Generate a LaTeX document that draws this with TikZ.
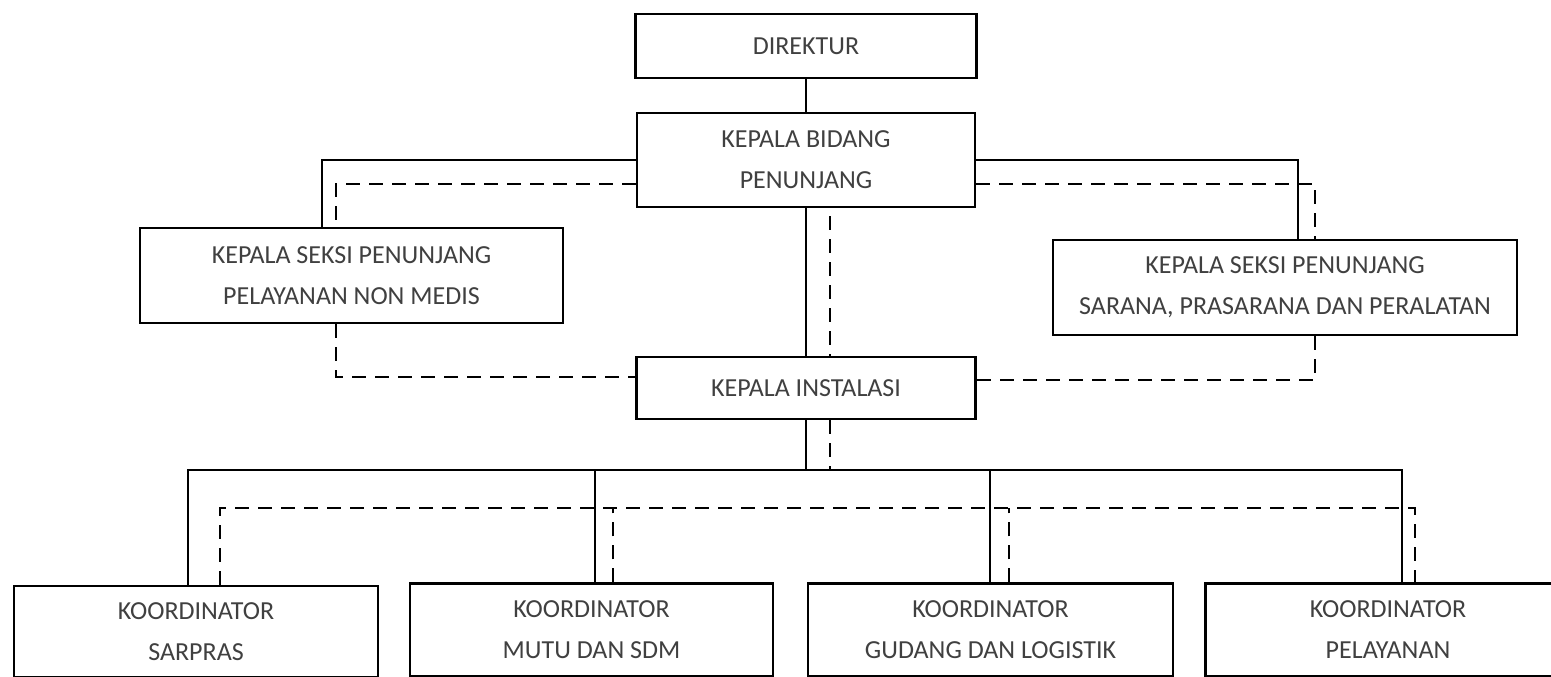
\documentclass[tikz,border=0pt]{standalone}
\usepackage{fontspec}
\setmainfont{Carlito}
\usetikzlibrary{positioning}

\begin{document}
\begin{tikzpicture}[x=1pt,y=-1pt]
  \tikzstyle{box}=[draw=black,line width=2.2pt,align=center,inner sep=0pt,
    font=\fontsize{26}{41}\selectfont,text=black!75]
  \tikzstyle{link}=[line width=1.8pt]
  \tikzstyle{dashlink}=[line width=1.8pt,dash pattern=on 14pt off 9pt]

  \clip (0,0) rectangle (1551,677);
  \fill[white] (0,0) rectangle (1551,677);

  \node[box,minimum width=341,minimum height=64] (dir) at (806,46) {DIREKTUR};
  \node[box,minimum width=338,minimum height=94] (kb) at (806,160) {KEPALA BIDANG\\PENUNJANG};
  \node[box,minimum width=423,minimum height=95] (kspn) at (351.5,275.5) {KEPALA SEKSI PENUNJANG\\PELAYANAN NON MEDIS};
  \node[box,minimum width=464,minimum height=95] (kspp) at (1285,287.5) {KEPALA SEKSI PENUNJANG\\SARANA, PRASARANA DAN PERALATAN};
  \node[box,minimum width=339,minimum height=62] (ki) at (806,388) {KEPALA INSTALASI};

  \node[box,minimum width=364,minimum height=91] (sarpras) at (196,631.5) {KOORDINATOR\\SARPRAS};
  \node[box,minimum width=363,minimum height=93] (mutu) at (591.5,630) {KOORDINATOR\\MUTU DAN SDM};
  \node[box,minimum width=365,minimum height=93] (gudang) at (990.5,630) {KOORDINATOR\\GUDANG DAN LOGISTIK};
  \node[box,minimum width=365,minimum height=93] (pelayanan) at (1388,630) {KOORDINATOR\\PELAYANAN};

  \coordinate (bus) at (806,470);
  \coordinate (dbus) at (806,508);

  % garis komando
  \draw[link] (dir) -- (kb);
  \draw[link] (kb) -- (ki);
  \draw[link] (kb.west) -| ([xshift=-29.5pt]kspn.north);
  \draw[link] (kb.east) -| ([xshift=13pt]kspp.north);
  \draw[link] (ki.south) -- (bus);
  \draw[link] ([xshift=-8pt]sarpras.north) |- (bus) -| ([xshift=14pt]pelayanan.north);
  \draw[link] ([xshift=3.5pt]mutu.north) -- ([xshift=3.5pt]mutu.north |- bus);
  \draw[link] ([xshift=-0.5pt]gudang.north) -- ([xshift=-0.5pt]gudang.north |- bus);

  % garis koordinasi
  \draw[dashlink] ([yshift=-24pt]kb.west) -| ([xshift=-15.5pt]kspn.north);
  \draw[dashlink] ([xshift=-15.5pt]kspn.south) |- ([yshift=11pt]ki.west);
  \draw[dashlink] ([yshift=-24pt]kb.east) -| ([xshift=30pt]kspp.north);
  \draw[dashlink] ([xshift=30pt]kspp.south) |- ([yshift=8pt]ki.east);
  \draw[dashlink] ([xshift=24pt,yshift=-8pt]kb.south) -- ([xshift=24pt]ki.north);
  \draw[dashlink] ([xshift=24pt]ki.south) -- ++(0,51);
  \draw[dashlink] ([xshift=24pt]sarpras.north) |- (dbus) -| ([xshift=27pt]pelayanan.north);
  \draw[dashlink] ([xshift=21.5pt]mutu.north) -- ([xshift=21.5pt]mutu.north |- dbus);
  \draw[dashlink] ([xshift=18.5pt]gudang.north) -- ([xshift=18.5pt]gudang.north |- dbus);
\end{tikzpicture}
\end{document}
